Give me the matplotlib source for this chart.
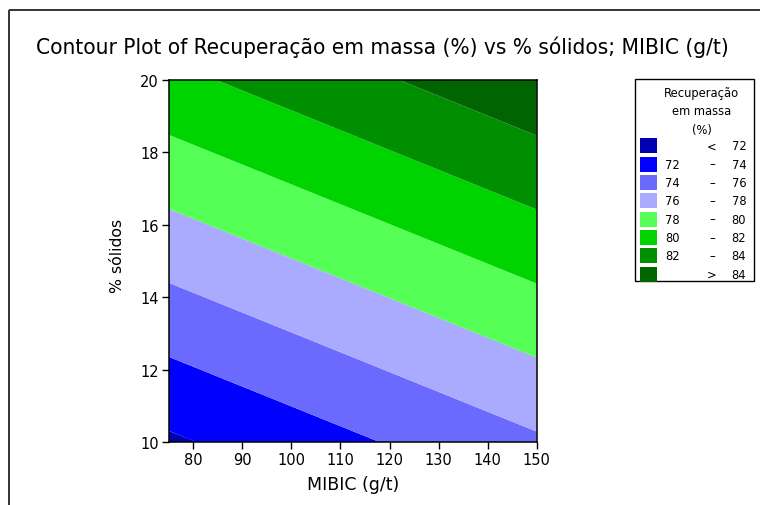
import matplotlib
matplotlib.use("Agg")
import matplotlib.pyplot as plt
import numpy as np
from matplotlib.patches import Rectangle

# Fitted response surface sampled on a coarse design grid
mibic = [75, 100, 125, 150]
solidos = [10, 12.5, 15, 17.5, 20]
recuperacao = [
    [71.69, 73.03, 74.37, 75.71],
    [74.14, 75.48, 76.82, 78.16],
    [76.59, 77.93, 79.27, 80.61],
    [79.04, 80.38, 81.72, 83.06],
    [81.49, 82.83, 84.17, 85.51],
]

# Contour cut points and band colours (lowest band first)
cuts = [72, 74, 76, 78, 80, 82, 84]
band_colors = ["#0000B0", "#0000FF", "#6A6AFF", "#AAAAFF",
               "#55FF55", "#00D400", "#008F00", "#006400"]

x_ticks = [80, 90, 100, 110, 120, 130, 140, 150]
y_ticks = [10, 12, 14, 16, 18, 20]

title = "Contour Plot of Recuperação em massa (%) vs % sólidos; MIBIC (g/t)"
x_label = "MIBIC (g/t)"
y_label = "% sólidos"
legend_title = ["Recuperação", "em massa", "(%)"]

W, H = 760, 506
fig = plt.figure(figsize=(W / 100, H / 100), dpi=100)
fig.patch.set_facecolor("white")

# Main contour axes (pixel box converted to figure fractions)
left, right, top, bottom = 168.8, 536.7, 80.7, 443.3
ax = fig.add_axes([left / W, 1 - bottom / H, (right - left) / W, (bottom - top) / H])

X, Y = np.meshgrid(mibic, solidos)
Z = np.array(recuperacao)
levels = [Z.min() - 1] + cuts + [Z.max() + 1]
ax.contourf(X, Y, Z, levels=levels, colors=band_colors, antialiased=True)

ax.set_xlim(75, 150)
ax.set_ylim(10, 20)
ax.set_xticks(x_ticks)
ax.set_yticks(y_ticks)
ax.tick_params(direction="out", length=5, width=1, labelsize=10.5,
               pad=2, colors="black")
for s in ax.spines.values():
    s.set_linewidth(1.1)
    s.set_color("black")

# Overlay in pixel coordinates for title, labels, legend and frame
ov = fig.add_axes([0, 0, 1, 1], zorder=-1)
ov.set_xlim(0, W)
ov.set_ylim(H, 0)
ov.axis("off")

ov.plot([9, 9], [H, 10.5], color="#333333", lw=1.4, solid_capstyle="butt")
ov.plot([9, W], [10.5, 10.5], color="#333333", lw=1.4, solid_capstyle="butt")

ov.text(382, 47, title, ha="center", va="center", fontsize=16.2,
        family="DejaVu Sans", stretch="condensed")
ov.text(352.7, 485, x_label, ha="center", va="center", fontsize=12.5)
ov.text(118, 256, y_label, ha="center", va="center", fontsize=11.3, rotation=90)

# Legend box
ov.add_patch(Rectangle((635, 79.5), 119, 202, fill=False, edgecolor="black", lw=1))
for i, line in enumerate(legend_title):
    ov.text(701.7, 93.3 + i * 18.4, line, ha="center", va="center", fontsize=8.3)

row0, step = 146.7, 18.33
for i, col in enumerate(band_colors):
    yc = row0 + i * step
    ov.add_patch(Rectangle((640, yc - 7.5), 17, 15, facecolor=col, edgecolor="none"))
    if i == 0:
        ov.text(712, yc, "<", ha="center", va="center", fontsize=8.3)
        ov.text(731.7, yc, f"{cuts[0]}", ha="left", va="center", fontsize=8.3)
    elif i == len(band_colors) - 1:
        ov.text(712, yc, ">", ha="center", va="center", fontsize=8.3)
        ov.text(731.7, yc, f"{cuts[-1]}", ha="left", va="center", fontsize=8.3)
    else:
        ov.text(665, yc, f"{cuts[i - 1]}", ha="left", va="center", fontsize=8.3)
        ov.text(712, yc, "–", ha="center", va="center", fontsize=8.3)
        ov.text(731.7, yc, f"{cuts[i]}", ha="left", va="center", fontsize=8.3)

fig.savefig("out.png", dpi=100)
